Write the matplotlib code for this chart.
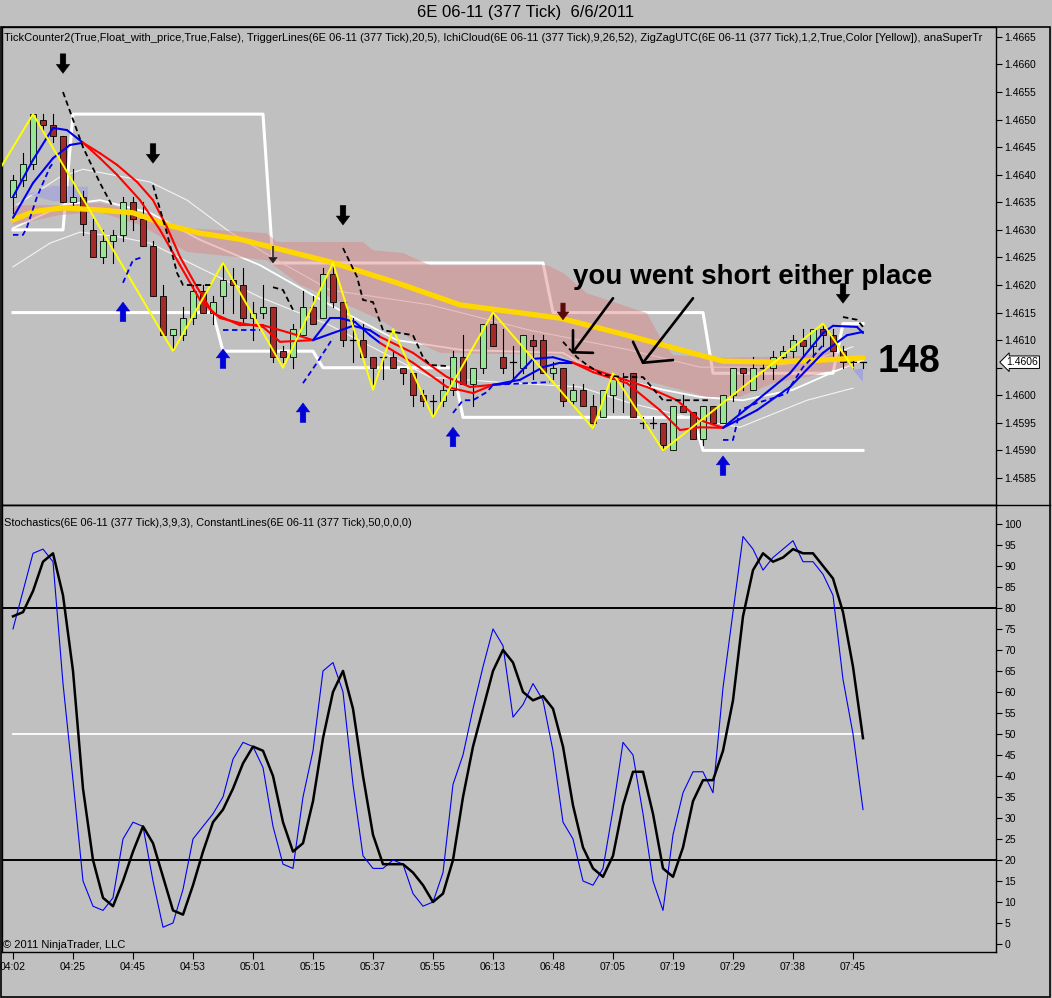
import numpy as np
import matplotlib
matplotlib.use('Agg')
import matplotlib.pyplot as plt
from matplotlib.patches import Rectangle, Polygon
from matplotlib.lines import Line2D
from matplotlib import transforms

BG = '#C0C0C0'
plt.rcParams['font.family'] = ['Liberation Sans', 'DejaVu Sans']

# ---- 377 tick bars, 6E 06-11, 6/6/2011 ----
OPEN = [1.4636, 1.4639, 1.4642, 1.4650, 1.4649, 1.4647, 1.4635, 1.4636, 1.4630, 1.4625,
        1.4628, 1.4629, 1.4635, 1.4632, 1.4627, 1.4618, 1.4611, 1.4611, 1.4614, 1.4619,
        1.4615, 1.4618, 1.4621, 1.4620, 1.4614, 1.4615, 1.4616, 1.4608, 1.4607, 1.4611,
        1.4616, 1.4614, 1.4622, 1.4617, 1.4610, 1.4610, 1.4607, 1.4607, 1.4607, 1.4605,
        1.4604, 1.4600, 1.4599, 1.4599, 1.4601, 1.4607, 1.4602, 1.4605, 1.4613, 1.4607,
        1.4606, 1.4605, 1.4610, 1.4610, 1.4604, 1.4605, 1.4599, 1.4601, 1.4598, 1.4596,
        1.4600, 1.4603, 1.4604, 1.4595, 1.4595, 1.4595, 1.4590, 1.4598, 1.4597, 1.4592,
        1.4598, 1.4595, 1.4600, 1.4605, 1.4601, 1.4605, 1.4605, 1.4607, 1.4608, 1.4610,
        1.4609, 1.4612, 1.4611, 1.4608, 1.4606, 1.4606]
HIGH = [1.4640, 1.4644, 1.4651, 1.4651, 1.4651, 1.4647, 1.4641, 1.4637, 1.4632, 1.4630,
        1.4630, 1.4636, 1.4636, 1.4635, 1.4628, 1.4620, 1.4612, 1.4616, 1.4620, 1.4620,
        1.4618, 1.4624, 1.4623, 1.4623, 1.4617, 1.4620, 1.4616, 1.4609, 1.4613, 1.4619,
        1.4618, 1.4623, 1.4624, 1.4617, 1.4614, 1.4613, 1.4607, 1.4607, 1.4608, 1.4605,
        1.4604, 1.4601, 1.4600, 1.4603, 1.4608, 1.4611, 1.4605, 1.4613, 1.4615, 1.4612,
        1.4609, 1.4611, 1.4611, 1.4611, 1.4606, 1.4605, 1.4602, 1.4602, 1.4600, 1.4601,
        1.4604, 1.4604, 1.4604, 1.4596, 1.4596, 1.4595, 1.4598, 1.4600, 1.4597, 1.4598,
        1.4598, 1.4600, 1.4605, 1.4605, 1.4607, 1.4606, 1.4608, 1.4609, 1.4611, 1.4612,
        1.4612, 1.4613, 1.4612, 1.4609, 1.4607, 1.4606]
LOW = [1.4633, 1.4638, 1.4641, 1.4648, 1.4646, 1.4635, 1.4634, 1.4629, 1.4625, 1.4624,
       1.4624, 1.4628, 1.4630, 1.4627, 1.4618, 1.4611, 1.4608, 1.4610, 1.4613, 1.4615,
       1.4613, 1.4615, 1.4615, 1.4613, 1.4610, 1.4614, 1.4606, 1.4606, 1.4605, 1.4611,
       1.4613, 1.4614, 1.4616, 1.4609, 1.4606, 1.4607, 1.4602, 1.4603, 1.4605, 1.4602,
       1.4598, 1.4598, 1.4596, 1.4598, 1.4600, 1.4602, 1.4598, 1.4604, 1.4609, 1.4604,
       1.4603, 1.4604, 1.4603, 1.4604, 1.4603, 1.4598, 1.4598, 1.4598, 1.4594, 1.4596,
       1.4597, 1.4597, 1.4596, 1.4594, 1.4594, 1.4590, 1.4590, 1.4597, 1.4592, 1.4591,
       1.4595, 1.4595, 1.4599, 1.4601, 1.4601, 1.4603, 1.4603, 1.4606, 1.4607, 1.4607,
       1.4607, 1.4609, 1.4607, 1.4605, 1.4605, 1.4605]
CLOSE = [1.4639, 1.4642, 1.4651, 1.4649, 1.4647, 1.4635, 1.4636, 1.4631, 1.4625, 1.4628,
         1.4629, 1.4635, 1.4632, 1.4627, 1.4618, 1.4611, 1.4612, 1.4614, 1.4619, 1.4615,
         1.4617, 1.4621, 1.4620, 1.4614, 1.4615, 1.4616, 1.4607, 1.4607, 1.4612, 1.4616,
         1.4613, 1.4622, 1.4617, 1.4610, 1.4610, 1.4607, 1.4605, 1.4607, 1.4605, 1.4604,
         1.4600, 1.4599, 1.4599, 1.4601, 1.4607, 1.4602, 1.4605, 1.4613, 1.4609, 1.4605,
         1.4606, 1.4611, 1.4609, 1.4604, 1.4605, 1.4599, 1.4601, 1.4598, 1.4595, 1.4601,
         1.4603, 1.4603, 1.4596, 1.4595, 1.4595, 1.4591, 1.4598, 1.4597, 1.4592, 1.4598,
         1.4595, 1.4600, 1.4605, 1.4604, 1.4605, 1.4605, 1.4607, 1.4608, 1.4610, 1.4609,
         1.4612, 1.4611, 1.4608, 1.4606, 1.4606, 1.4606]
LAST_PRICE = 1.4606

TIME_LABELS = ['04:02', '04:25', '04:45', '04:53', '05:01', '05:15', '05:37', '05:55',
               '06:13', '06:48', '07:05', '07:19', '07:29', '07:38', '07:45']
BARS_PER_LABEL = 6

# ---- Stochastics(3,9,3) ----
STOCH_K = [75, 84, 93, 94, 91, 62, 39, 15, 9, 8, 11, 25, 29, 28, 15, 4, 5, 13, 25, 28,
           31, 35, 44, 48, 47, 42, 28, 19, 18, 35, 46, 65, 67, 60, 38, 21, 18, 18, 20, 19,
           12, 9, 10, 17, 38, 45, 56, 66, 75, 71, 54, 57, 62, 58, 46, 29, 25, 15, 14, 18,
           32, 48, 45, 31, 15, 8, 26, 36, 41, 41, 36, 61, 79, 97, 94, 89, 92, 94, 96, 91,
           91, 88, 83, 63, 50, 32]
STOCH_D = [78, 79, 84, 91, 93, 83, 65, 37, 20, 11, 9, 15, 22, 28, 24, 16, 8, 7, 14, 22,
           29, 32, 37, 43, 47, 46, 40, 29, 22, 24, 34, 49, 60, 65, 56, 40, 26, 19, 19, 19,
           17, 14, 10, 12, 20, 35, 47, 56, 65, 70, 67, 60, 58, 59, 56, 47, 33, 23, 18, 16,
           21, 33, 41, 41, 31, 18, 16, 23, 34, 39, 39, 46, 58, 78, 89, 93, 91, 92, 94, 93,
           93, 90, 87, 79, 66, 49]
STOCH_LEVELS = [80, 20]
STOCH_MID = 50

# ---- ZigZag (yellow) swing points: bar index, price ----
ZZ_I = [-3, 2, 16, 21, 27, 32, 36, 38, 42, 48, 58, 60, 65, 81, 84]
ZZ_P = [1.4636, 1.4651, 1.4608, 1.4624, 1.4605, 1.4624, 1.4601, 1.4612, 1.4596, 1.4615,
        1.4594, 1.4604, 1.4590, 1.4613, 1.4605]

# ---- thick gold average ----
MA_I = [0, 2, 5, 8.7, 12, 15.4, 18.7, 22.7, 31.7, 38.4, 44.7, 54.7, 61.4, 68.7, 71, 76, 81, 85]
MA_P = [1.46318, 1.46333, 1.46340, 1.46336, 1.46331, 1.46309, 1.46294, 1.46283, 1.46242,
        1.46204, 1.46164, 1.46140, 1.46109, 1.46073, 1.46062, 1.46060, 1.46064, 1.46068]

# ---- TriggerLines(20,5): fast / slow, blue in up phases, red in down phases ----
FAST_I = [0, 2, 4, 5.4, 7, 8.7, 10.4, 12.7, 14.7, 16.7, 18.7, 20.7, 22.7, 25, 26.7, 30,
          31.7, 32.7, 34.2, 35.7, 36.7, 40, 43.4, 46, 48, 49.7, 52, 54, 56, 58, 61.4, 64.7,
          66.7, 68.7, 71, 74.4, 77.7, 81, 82, 84.4, 85]
FAST_P = [1.46360, 1.46427, 1.46485, 1.46481, 1.46458, 1.46430, 1.46400, 1.46354, 1.46300,
          1.46236, 1.46173, 1.46140, 1.46131, 1.46124, 1.46097, 1.46100, 1.46140, 1.46140,
          1.46133, 1.46109, 1.46095, 1.46059, 1.46015, 1.46004, 1.46019, 1.46022, 1.46066,
          1.46069, 1.46059, 1.46042, 1.46022, 1.45973, 1.45937, 1.45942, 1.45941, 1.45991,
          1.46040, 1.46113, 1.46126, 1.46124, 1.46113]
SLOW_I = [0, 2, 4, 5.7, 7, 8.7, 10.4, 12.4, 14, 15.4, 16.7, 18.4, 20, 22.7, 25, 27.7, 30,
          32, 34, 35.7, 36.7, 40, 43.4, 45.7, 48, 50.7, 53, 54.7, 56, 59.7, 63.4, 66.4, 68.7,
          71, 74.4, 77.7, 81, 83.4, 85]
SLOW_P = [1.46322, 1.46385, 1.46430, 1.46454, 1.46458, 1.46439, 1.46418, 1.46387, 1.46354,
          1.46305, 1.46251, 1.46196, 1.46149, 1.46127, 1.46127, 1.46113, 1.46100, 1.46113,
          1.46126, 1.46118, 1.46106, 1.46077, 1.46033, 1.46015, 1.46019, 1.46028, 1.46051,
          1.46059, 1.46059, 1.46037, 1.46015, 1.45991, 1.45955, 1.45941, 1.45973, 1.46015,
          1.46077, 1.46109, 1.46115]
UP_SPANS = [(-1, 7), (30, 36.7), (48, 56), (71, 86)]

# ---- thin bands ----
UB_I = [0, 4.7, 7, 13.7, 17.4, 21.7, 26.7, 31.7, 41.7, 51.7, 61.7, 68.7, 75, 80, 84]
UB_P = [1.46341, 1.46396, 1.46410, 1.46387, 1.46354, 1.46296, 1.46242, 1.46191, 1.46164,
        1.46118, 1.46082, 1.46051, 1.46051, 1.46064, 1.46088]
MB_I = [0, 5, 8.7, 13.7, 18.7, 24.7, 31.7, 38.4, 45, 55, 58.4, 65, 68.7, 73, 78, 82, 85]
MB_P = [1.46303, 1.46345, 1.46354, 1.46331, 1.46282, 1.46236, 1.46164, 1.46100, 1.46082,
        1.46077, 1.46040, 1.46010, 1.45997, 1.45991, 1.46010, 1.46042, 1.46064]
LB_I = [0, 3.7, 6.7, 10.7, 13.7, 18.7, 24.7, 31.7, 41.7, 48.4, 56.7, 61.7, 68.7, 72.7, 79.4, 84]
LB_P = [1.46233, 1.46276, 1.46296, 1.46287, 1.46276, 1.46231, 1.46178, 1.46127, 1.46033,
        1.46024, 1.46015, 1.45986, 1.45955, 1.45942, 1.45991, 1.46013]

# ---- stepped high / low channel (thick white) ----
HI_I = [0, 5, 6, 25, 26, 53, 54, 69, 70, 82, 83, 85]
HI_P = [1.4630, 1.4630, 1.4651, 1.4651, 1.4624, 1.4624, 1.4615, 1.4615, 1.4604, 1.4604,
        1.4613, 1.4613]
LO_I = [0, 20, 21, 30, 31, 44, 45, 68, 69, 85]
LO_P = [1.4615, 1.4615, 1.4608, 1.4608, 1.4605, 1.4605, 1.4596, 1.4596, 1.4590, 1.4590]

# ---- IchiCloud(9,26,52) ----
CT_I = [0, 4.7, 8.7, 12.7, 17.4, 25.4, 26.4, 35, 36, 39, 41.7, 53.4, 55, 57.4, 63.4, 65,
        66, 71, 78.7, 82, 84.2]
CT_P = [1.46345, 1.46345, 1.46349, 1.46331, 1.46303, 1.46294, 1.46278, 1.46278, 1.46263,
        1.46258, 1.46236, 1.46236, 1.46222, 1.46185, 1.46149, 1.46095, 1.46073, 1.46068,
        1.46071, 1.46082, 1.46055]
CB_I = [0, 4.7, 8.7, 12.7, 17.4, 25.4, 28.7, 31.7, 36.7, 40, 42.7, 54.7, 58, 63, 69.4,
        72.7, 76, 79.4, 82.7, 84.2]
CB_P = [1.46309, 1.46327, 1.46332, 1.46309, 1.46260, 1.46245, 1.46200, 1.46178, 1.46137,
        1.46100, 1.46077, 1.46073, 1.46046, 1.46028, 1.45997, 1.45997, 1.46022, 1.46033,
        1.46049, 1.46055]
LAV1_I = [1.5, 4, 7.5, 7.5, 4]
LAV1_P = [1.46365, 1.46380, 1.46378, 1.46350, 1.46352]
LAV2_I = [84, 85, 85]
LAV2_P = [1.46046, 1.46049, 1.46024]

# ---- anaSuperTrend stop (dashed): black above price, blue below ----
ST_DOWN = [
    ([5, 7, 8.7, 10], [1.46550, 1.46450, 1.46385, 1.46341]),
    ([14, 15.4, 16.4, 17, 20], [1.46381, 1.46294, 1.46222, 1.46200, 1.46200]),
    ([26, 27, 28], [1.46196, 1.46191, 1.46155]),
    ([33, 34.4, 35, 36, 37, 40, 41, 41.7, 43.4],
     [1.46267, 1.46215, 1.46173, 1.46169, 1.46118, 1.46109, 1.46069, 1.46055, 1.46053]),
    ([55, 56.4, 57.4, 59, 61, 63, 65, 69.7],
     [1.46097, 1.46069, 1.46055, 1.46037, 1.46033, 1.46033, 1.45991, 1.45991]),
    ([83, 84.4, 85], [1.46142, 1.46137, 1.46124]),
]
ST_UP = [
    ([0, 1, 1.4, 2.4, 3.7, 4], [1.46291, 1.46291, 1.46305, 1.46360, 1.46414, 1.46421]),
    ([11, 11.7, 12, 13], [1.46204, 1.46233, 1.46245, 1.46251]),
    ([21, 24.7], [1.46118, 1.46118]),
    ([29, 30.4, 32], [1.46022, 1.46059, 1.46104]),
    ([44, 45, 46, 47.4, 48, 53.7], [1.45968, 1.45991, 1.45991, 1.46006, 1.46019, 1.46024]),
    ([71, 72, 72.7, 74.4, 76.4, 77.4, 77.7, 79, 79.7, 81],
     [1.45919, 1.45919, 1.45973, 1.45986, 1.45997, 1.46004, 1.46015, 1.46051, 1.46064, 1.46091]),
]

# ---- signal arrows (tip positions) ----
DOWN_ARROW_I = [5, 14, 33, 83]
DOWN_ARROW_TIP = [1.46584, 1.46421, 1.46309, 1.46167]
UP_ARROW_I = [11, 21, 29, 44, 71]
UP_ARROW_TIP = [1.46169, 1.46084, 1.45986, 1.45942, 1.45890]

# ---- hand drawn markup ----
NOTE_TEXT = 'you went short either place'
NOTE_I, NOTE_P = 56, 1.46215
COUNT_TEXT = '148'
COUNT_I, COUNT_P = 86.5, 1.46060
HAND_STROKES = [
    ([60, 56], [1.46176, 1.46078]),
    ([56, 56, 58], [1.46118, 1.46078, 1.46077]),
    ([68, 63], [1.46176, 1.46059]),
    ([62, 63, 66], [1.46097, 1.46059, 1.46064]),
]

TITLE = '6E 06-11 (377 Tick)  6/6/2011'
PRICE_HEADER = ('TickCounter2(True,Float_with_price,True,False), TriggerLines(6E 06-11 (377 Tick),20,5), '
                'IchiCloud(6E 06-11 (377 Tick),9,26,52), ZigZagUTC(6E 06-11 (377 Tick),1,2,True,Color [Yellow]), '
                'anaSuperTr')
STOCH_HEADER = 'Stochastics(6E 06-11 (377 Tick),3,9,3), ConstantLines(6E 06-11 (377 Tick),50,0,0,0)'
COPYRIGHT = '\u00a9 2011 NinjaTrader, LLC'

W, H = 1052, 998
fig = plt.figure(figsize=(W / 100, H / 100), dpi=100, facecolor=BG)
ax = fig.add_axes([2 / W, 1 - 505 / H, 994 / W, 478 / H], facecolor=BG)
ax2 = fig.add_axes([2 / W, 1 - 952 / H, 994 / W, 447 / H], facecolor=BG, sharex=ax)

idx = np.arange(len(OPEN))

# channel + bands (under the cloud)
ax.plot(HI_I, HI_P, color='white', lw=2.2, zorder=1)
ax.plot(LO_I, LO_P, color='white', lw=2.2, zorder=1)
ax.plot(UB_I, UB_P, color='#F4F4F4', lw=0.8, zorder=1)
ax.plot(MB_I, MB_P, color='white', lw=1.3, zorder=1)
ax.plot(LB_I, LB_P, color='#F4F4F4', lw=0.8, zorder=1)

cloud = list(zip(CT_I, CT_P)) + list(zip(CB_I, CB_P))[::-1]
ax.add_patch(Polygon(cloud, closed=True, fc='#DC8282', ec='none', alpha=0.45, zorder=1.5))
ax.add_patch(Polygon(list(zip(LAV1_I, LAV1_P)), closed=True, fc='#9A9AE6', ec='none', alpha=0.55, zorder=1.5))
ax.add_patch(Polygon(list(zip(LAV2_I, LAV2_P)), closed=True, fc='#9A9AE6', ec='none', alpha=0.7, zorder=1.5))

# candles
bw = 0.6
for i in idx:
    o, h, l, c = OPEN[i], HIGH[i], LOW[i], CLOSE[i]
    ax.plot([i, i], [l, h], color='black', lw=0.8, zorder=2)
    if c == o:
        ax.plot([i - bw / 2, i + bw / 2], [c, c], color='black', lw=0.9, zorder=2.1)
    else:
        fc = '#96E696' if c > o else '#A52A2A'
        ax.add_patch(Rectangle((i - bw / 2, min(o, c)), bw, abs(c - o), fc=fc, ec='black',
                               lw=0.6, zorder=2.1))

ax.plot(MA_I, MA_P, color='#FFD700', lw=3.8, solid_capstyle='round', zorder=3)


def trend_color(a, b):
    m = (a + b) / 2
    for s, e in UP_SPANS:
        if s <= m <= e:
            return '#0000F0'
    return '#FF0000'


for xs, ys in [(FAST_I, FAST_P), (SLOW_I, SLOW_P)]:
    for k in range(len(xs) - 1):
        ax.plot(xs[k:k + 2], ys[k:k + 2], color=trend_color(xs[k], xs[k + 1]), lw=1.5,
                solid_capstyle='round', zorder=3.5)

ax.plot(ZZ_I, ZZ_P, color='#FFFF00', lw=1.4, zorder=4)

for xs, ys in ST_DOWN:
    ax.plot(xs, ys, color='black', lw=1.3, ls=(0, (3, 2)), zorder=4.5)
for xs, ys in ST_UP:
    ax.plot(xs, ys, color='#0000F0', lw=1.3, ls=(0, (3, 2)), zorder=4.5)


def arrow(i, tip, up, color, length=14, scale=8, tail=0.5):
    ax.annotate('', xy=(i, tip), xytext=(0, -length if up else length), textcoords='offset points',
                arrowprops=dict(arrowstyle=f'simple,head_width=1.2,head_length=0.8,tail_width={tail}',
                                mutation_scale=scale, fc=color, ec=color, lw=0.4,
                                shrinkA=0, shrinkB=0), zorder=6)


for i, p in zip(DOWN_ARROW_I, DOWN_ARROW_TIP):
    arrow(i, p, False, 'black')
for i, p in zip(UP_ARROW_I, UP_ARROW_TIP):
    arrow(i, p, True, '#0000D8')
# small trailing-stop arrows
arrow(26, 1.46240, False, '#202020', length=12, scale=5, tail=0.15)
arrow(55, 1.46137, False, '#5A0A0A', length=12, scale=7, tail=0.45)

for xs, ys in HAND_STROKES:
    ax.plot(xs, ys, color='black', lw=1.9, solid_capstyle='round', zorder=7)
ax.text(NOTE_I, NOTE_P, NOTE_TEXT, fontsize=20, fontweight='bold', ha='left', va='center', zorder=8)
ax.text(COUNT_I, COUNT_P, COUNT_TEXT, fontsize=27, fontweight='bold', ha='left', va='center', zorder=8)

ax.text(0.002, 1 - 11 / 478, PRICE_HEADER, transform=ax.transAxes, fontsize=8.0,
        ha='left', va='center', zorder=9)

ax.set_xlim(-1.1, 98.3)
ax.set_ylim(1.45801, 1.46668)
price_ticks = np.arange(1.4585, 1.46651, 0.0005)
ax.set_yticks(price_ticks)
# the 1.4605 label sits under the last-price marker
ax.set_yticklabels(['' if abs(t - LAST_PRICE) < 0.0002 else f'{t:.4f}' for t in price_ticks])
ax.tick_params(axis='y', left=False, labelleft=False, right=True, labelright=True,
               direction='out', length=4, width=0.8, labelsize=7.5, pad=2)
ax.tick_params(axis='x', bottom=False, labelbottom=False)

# last price marker
tr = transforms.blended_transform_factory(ax.transAxes, ax.transData)
ax.text(1.0105, LAST_PRICE, f'{LAST_PRICE:.4f}', transform=tr, fontsize=7.5, ha='left', va='center',
        clip_on=False, zorder=10,
        bbox=dict(boxstyle='larrow,pad=0.12', fc='white', ec='black', lw=0.7))

# stochastics panel
ax2.plot(idx, STOCH_K, color='#0000F0', lw=0.8, zorder=3)
ax2.plot(idx, STOCH_D, color='black', lw=1.8, zorder=4)
for lv in STOCH_LEVELS:
    ax2.axhline(lv, color='black', lw=1.4, zorder=2)
ax2.plot([idx[0], idx[-1]], [STOCH_MID, STOCH_MID], color='white', lw=1.3, zorder=2)
ax2.set_ylim(-1.9, 104.5)
ax2.set_yticks(np.arange(0, 101, 5))
ax2.tick_params(axis='y', left=False, labelleft=False, right=True, labelright=True,
                direction='out', length=4, width=0.8, labelsize=7.5, pad=2)
ax2.set_xticks(idx[::BARS_PER_LABEL])
ax2.set_xticklabels(TIME_LABELS)
ax2.tick_params(axis='x', direction='out', length=5, width=0.8, labelsize=7.5, pad=2)
ax2.text(0.002, 1 - 18 / 447, STOCH_HEADER, transform=ax2.transAxes, fontsize=7.9, ha='left',
         va='center', zorder=9)
ax2.text(0.001, 7 / 447, COPYRIGHT, transform=ax2.transAxes, fontsize=8, ha='left', va='center',
         zorder=9)

for a in (ax, ax2):
    for sp in a.spines.values():
        sp.set_color('black')
        sp.set_linewidth(1.0)

fig.text(0.5, 1 - 13 / H, TITLE, ha='center', va='center', fontsize=12)
fig.add_artist(Rectangle((1 / W, 1 / H), 1049 / W, 970 / H, transform=fig.transFigure,
                         fill=False, ec='black', lw=1.2))
fig.add_artist(Line2D([2 / W, 1050 / W], [1 - 505 / H] * 2, transform=fig.transFigure,
                      color='black', lw=1.0))

fig.savefig('out.png', dpi=100, facecolor=BG)
